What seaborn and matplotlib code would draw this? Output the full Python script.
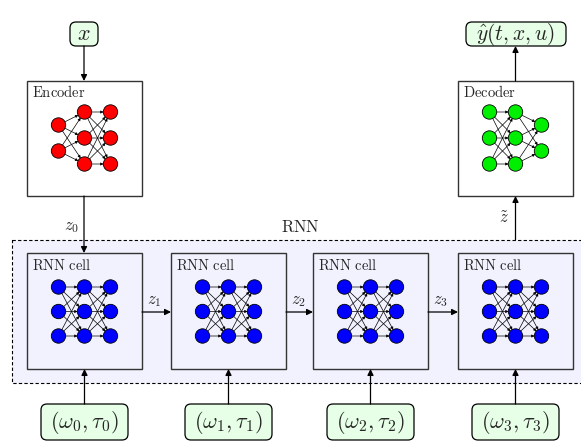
import numpy as np
import matplotlib
matplotlib.use("Agg")
import matplotlib.pyplot as plt
from matplotlib.patches import Rectangle, Circle, FancyBboxPatch
import seaborn as sns

sns.set_style("white")
plt.rcParams['mathtext.fontset'] = 'cm'

# diagram content
enc_layers = [2, 3, 3]
cell_layers = [3, 3, 3]
dec_layers = [3, 3, 2]
input_labels = [r'$(\omega_0, \tau_0)$', r'$(\omega_1, \tau_1)$',
                r'$(\omega_2, \tau_2)$', r'$(\omega_3, \tau_3)$']
hidden_labels = [r'$z_1$', r'$z_2$', r'$z_3$']
x_label = r'$x$'
y_label = r'$\hat{y}(t, x, u)$'
z0_label = r'$z_0$'
zt_label = r'$\tilde{z}$'

# layout (pixels)
W, H = 581, 442
box_w, box_h = 115, 116
cell_left = [27, 171, 313, 458]
cell_top = 253
enc_left, dec_left, top_box = 27, 458, 81
lav = '#f2f2ff'
lgreen = '#e6ffe6'


def arrow(ax, p0, p1, lw=0.9, ms=9, sa=0, sb=0):
    ax.annotate('', xy=p1, xytext=p0,
                arrowprops=dict(arrowstyle='-|>', color='k', lw=lw,
                                mutation_scale=ms, shrinkA=sa, shrinkB=sb))


def draw_net(ax, cx, cy, layers, color, dx=26, dy=26, r=7.2):
    pos = []
    for i, n in enumerate(layers):
        x = cx + (i - (len(layers) - 1) / 2) * dx
        ys = cy + (np.arange(n) - (n - 1) / 2) * dy
        pos.append([(x, y) for y in ys])
    for a, b in zip(pos[:-1], pos[1:]):
        for p in a:
            for q in b:
                arrow(ax, p, q, lw=0.5, ms=4, sa=5, sb=5)
    for layer in pos:
        for p in layer:
            ax.add_patch(Circle(p, r, fc=color, ec='k', lw=0.6, zorder=5))


def rbox(ax, cx, cy, w, h, label, fs):
    ax.add_patch(FancyBboxPatch((cx - w / 2, cy - h / 2), w, h,
                                boxstyle='round,pad=0,rounding_size=6',
                                fc=lgreen, ec='k', lw=0.9, zorder=3))
    ax.text(cx, cy, label, ha='center', va='center', fontsize=fs, zorder=4)


fig = plt.figure(figsize=(W / 100, H / 100), dpi=100)
ax = fig.add_axes([0, 0, 1, 1])
ax.set_xlim(0, W)
ax.set_ylim(H, 0)
ax.axis('off')

# RNN dashed frame
ax.add_patch(Rectangle((12, 240), 600, 143, fc=lav, ec='k', lw=0.8,
                       ls=(0, (3, 2)), zorder=0))
ax.text(300, 227, r'$\mathrm{RNN}$', ha='center', va='center', fontsize=12)

# encoder / decoder
for left, name, layers, col in [(enc_left, 'Encoder', enc_layers, 'red'),
                                (dec_left, 'Decoder', dec_layers, '#00ee00')]:
    ax.add_patch(Rectangle((left, top_box), box_w, 115, fc='white', ec='#333333', lw=1, zorder=1))
    ax.text(left + 5, top_box + 11, r'$\mathrm{%s}$' % name, ha='left', va='center', fontsize=10.5)
    draw_net(ax, left + 57.5, 138, layers, col)

# cells
cx_list = [l + box_w / 2 for l in cell_left]
for i, left in enumerate(cell_left):
    ax.add_patch(Rectangle((left, cell_top), box_w, box_h, fc=lav, ec='#333333', lw=1, zorder=1))
    ax.text(left + 5, cell_top + 13, r'$\mathrm{RNN\ cell}$', ha='left', va='center', fontsize=10.5)
    draw_net(ax, left + 57.5, 311.5, cell_layers, 'blue', dy=24.5)
    # input boxes
    rbox(ax, cx_list[i], 422, 87, 36, input_labels[i], 16)
    arrow(ax, (cx_list[i], 404), (cx_list[i], cell_top + box_h))
    if i < len(hidden_labels):
        arrow(ax, (left + box_w, 312), (cell_left[i + 1], 312))
        ax.text(left + box_w + 12, 300, hidden_labels[i], ha='center', va='center', fontsize=12)

# top boxes and links
rbox(ax, 84, 34, 28, 24, x_label, 16)
arrow(ax, (84, 46), (84, top_box))
arrow(ax, (84, top_box + 115), (84, cell_top))
ax.text(72, 226, z0_label, ha='center', va='center', fontsize=12)

rbox(ax, 516, 34, 100, 24, y_label, 15.5)
arrow(ax, (515.5, top_box), (515.5, 46))
arrow(ax, (515.5, 240), (515.5, top_box + 115))
ax.text(504, 218, zt_label, ha='center', va='center', fontsize=12)

fig.savefig('out.png', dpi=100)
